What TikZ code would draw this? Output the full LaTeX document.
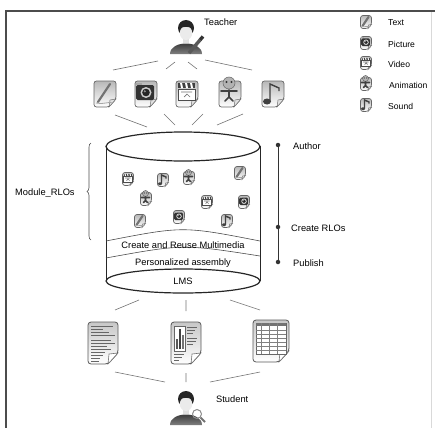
\documentclass[tikz,border=0pt]{standalone}
\usepackage{fontspec}
\setmainfont{Liberation Sans}
\usetikzlibrary{decorations.pathreplacing}

% plain page with a folded lower-right corner (24 x 28)
\newcommand\icnpage{%
  \draw[black!60, line width=0.7pt, rounded corners=2.5pt, top color=black!28, bottom color=white]
    (-11pt,-13pt) -- (11pt,-13pt) -- (11pt,5pt) -- (4pt,13pt) -- (-11pt,13pt) -- cycle;
  \fill[black!12, draw=black!55, line width=0.5pt] (11pt,5pt) -- (5pt,6pt) -- (4pt,13pt) -- cycle;
}
% larger document page, half width given as argument
\newcommand\docpage[1]{%
  \draw[black!65, line width=0.8pt, rounded corners=3pt, top color=black!22, bottom color=white]
    (-#1,-21pt) -- (#1,-21pt) -- (#1,10pt) -- ([xshift=-10pt]#1,21pt) -- (-#1,21pt) -- cycle;
  \fill[white, draw=black!55, line width=0.6pt] (#1,10pt) -- ([xshift=-9pt]#1,11pt) -- ([xshift=-10pt]#1,21pt) -- cycle;
}

\tikzset{
  lbl/.style={font=\fontsize{9.3}{11}\selectfont, inner sep=0pt, anchor=west},
  ctr/.style={font=\fontsize{9.3}{11}\selectfont, inner sep=0pt},
  key/.style={lbl, font=\fontsize{8.6}{10}\selectfont},
  link/.style={draw=black!55, line width=0.6pt},
  cyl/.style={draw=black!85, line width=0.9pt},
  band/.style={draw=black!70, line width=0.6pt},
  spot/.style={circle, fill=black!80, inner sep=0pt, minimum size=4.5pt},
  slot/.style={inner sep=0pt, minimum width=24pt, minimum height=28pt},
  mini/.style={inner sep=0pt, minimum width=12pt, minimum height=14pt},
  docslot/.style={inner sep=0pt, minimum width=32pt, minimum height=42pt},
  icn/.style={yscale=-1},
  % media icons (drawn with y pointing down)
  itext/.pic={\icnpage
    \draw[black!55, line width=2.2pt, line cap=round] (-7pt,8pt) -- (5pt,-10pt);
    \draw[black!35, line width=0.8pt] (-9pt,9pt) .. controls (-2pt,11pt) and (4pt,7pt) .. (8pt,9pt);},
  ipict/.pic={\icnpage
    \fill[black!80, rounded corners=1.5pt] (-10pt,-9pt) rectangle (8pt,6pt);
    \fill[black!35] (-10pt,-11pt) rectangle (-4pt,-9pt);
    \fill[black!20] (0pt,-1.5pt) circle (5.5pt);
    \fill[black!85] (0pt,-1.5pt) circle (3.8pt);
    \fill[black!45] (-1.2pt,-2.7pt) circle (1.2pt);},
  ivid/.pic={\icnpage
    \fill[black!75] (-9pt,-11pt) rectangle (8pt,-6pt);
    \foreach \q in {-7,-2,3}{\fill[white] (\q pt,-11pt) -- (\q pt+2pt,-11pt) -- (\q pt+3pt,-6pt) -- (\q pt+1pt,-6pt) -- cycle;}
    \draw[black!70, fill=white, line width=0.6pt] (-9pt,-5pt) rectangle (8pt,6pt);
    \draw[black!55, line width=0.7pt] (-6pt,-2pt) -- (5pt,-2pt) (-3pt,3pt) -- (0pt,0pt) -- (3pt,3pt);},
  ianim/.pic={\icnpage
    \fill[black!30, draw=black!60, line width=0.5pt] (-1pt,-11pt) circle (6pt);
    \fill[black!80] (-3.5pt,-12pt) circle (1.2pt) (1.5pt,-12pt) circle (1.2pt);
    \draw[black!75, line width=1.6pt, line cap=round] (-9pt,-3pt) -- (7pt,-3pt) (-1pt,-4pt) -- (-1pt,3pt) (-5pt,7pt) -- (-1pt,3pt) -- (3pt,7pt);},
  isnd/.pic={\icnpage
    \draw[black!75, line width=1.4pt] (-3pt,7pt) -- (-3pt,-10pt) -- (6pt,-6pt) -- (6pt,-3pt);
    \fill[black!75] (-6pt,7.5pt) ellipse [x radius=4pt, y radius=3pt];},
  % documents handed to the student
  dtext/.pic={\docpage{15pt}
    \foreach \yy/\w in {-17/22,-14/12,-11/18,-8/24,-3/20,0/24,3/16,6/20,9/14,12/12,15/9,18/8}
      {\draw[black!60, line width=0.6pt] (-12pt,\yy pt) -- ++(\w pt,0pt);}},
  dchart/.pic={\docpage{15pt}
    \draw[black!60, fill=white, line width=0.5pt] (-12pt,-17pt) rectangle (-1pt,8pt);
    \fill[black!65] (-10pt,6pt) rectangle (-8pt,-4pt);
    \fill[black!75] (-7pt,6pt) rectangle (-5pt,-14pt);
    \fill[black!55] (-4pt,6pt) rectangle (-2pt,-8pt);
    \foreach \xx/\yy/\w in {1/-16/10,1/-13/8,1/-10/6,1/-5/10,1/-2/9,1/1/6,-12/11/10,-12/14/8,-12/17/5}
      {\draw[black!60, line width=0.6pt] (\xx pt,\yy pt) -- ++(\w pt,0pt);}},
  dgrid/.pic={\docpage{18pt}
    \draw[black!60, fill=white, line width=0.5pt] (-15pt,-18pt) rectangle (15pt,13pt);
    \fill[black!55] (-15pt,-18pt) rectangle (15pt,-15pt);
    \foreach \yy in {-11,-7,-3,1,5,9}{\draw[black!50, line width=0.5pt] (-15pt,\yy pt) -- (15pt,\yy pt);}
    \foreach \xx in {-10,-2,6}{\draw[black!50, line width=0.5pt] (\xx pt,-18pt) -- (\xx pt,13pt);}},
  % people
  person/.pic={
    \shade[top color=black!85, bottom color=black!50] (-16pt,17pt) .. controls (-16pt,3pt) and (16pt,3pt) .. (16pt,17pt) -- cycle;
    \fill[black!12] (-3pt,0pt) rectangle (3pt,6pt);
    \fill[black!85] (0pt,-9pt) circle (8pt);
    \fill[black!8] (0pt,-4pt) ellipse [x radius=6.2pt, y radius=7pt];
    \fill[black!85] (-7.5pt,-8pt) .. controls (-6pt,-18pt) and (6pt,-18pt) .. (7.5pt,-8pt) .. controls (3pt,-11pt) and (-3pt,-11pt) .. cycle;},
}

\begin{document}
\begin{tikzpicture}[x=1pt, y=-1pt]
\useasboundingbox (0,0) rectangle (435,428);

% frame
\draw[black!15, line width=0.6pt] (431,12) -- (431,428);
\draw[black!70, line width=1.4pt] (435,11) -- (6,11) -- (6,428);

% teacher
\node[inner sep=0pt, minimum width=34pt, minimum height=36pt] (teacher) at (186,37) {};
\pic[icn] at (teacher) {person};
\draw[black!65, line width=3.4pt] (189,53) -- (200,40);
\draw[black!80, line width=3.4pt] (200,40) -- (203,36.5);
\node[lbl] (teachertxt) at (204,22) {Teacher};

% media row
\node[slot] (m1) at (105,94) {}; \pic[icn] at (m1) {itext};
\node[slot] (m2) at (146,94) {}; \pic[icn] at (m2) {ipict};
\node[slot] (m3) at (187,94) {}; \pic[icn] at (m3) {ivid};
\node[slot] (m4) at (230,94) {}; \pic[icn] at (m4) {ianim};
\node[slot] (m5) at (273,94) {}; \pic[icn] at (m5) {isnd};

% strokes teacher -> media
\coordinate (ta1) at (113,70); \coordinate (tb1) at (158,61);
\coordinate (ta2) at (166,69); \coordinate (tb2) at (175,62);
\coordinate (ta3) at (188,62); \coordinate (tb3) at (197,69);
\coordinate (ta4) at (205,60); \coordinate (tb4) at (252,70);
\draw[link] (ta1) -- (tb1) (ta2) -- (tb2) (ta3) -- (tb3) (ta4) -- (tb4);

% strokes media -> store
\coordinate (ma1) at (115,115); \coordinate (mb1) at (147,127);
\coordinate (ma2) at (164,114); \coordinate (mb2) at (175,125);
\coordinate (ma3) at (192,125); \coordinate (mb3) at (203,114);
\coordinate (ma4) at (217,125); \coordinate (mb4) at (243,114);
\draw[link] (ma1) -- (mb1) (ma2) -- (mb2) (ma3) -- (mb3) (ma4) -- (mb4);

% legend
\node[mini] (k1) at (366,22) {};  \pic[icn, scale=0.5] at (k1) {itext};
\node[mini] (k2) at (366,43) {};  \pic[icn, scale=0.5] at (k2) {ipict};
\node[mini] (k3) at (366,63) {};  \pic[icn, scale=0.5] at (k3) {ivid};
\node[mini] (k4) at (366,84) {};  \pic[icn, scale=0.5] at (k4) {ianim};
\node[mini] (k5) at (366,105) {}; \pic[icn, scale=0.5] at (k5) {isnd};
\node[key] (k1t) at (388,23) {Text};
\node[key] (k2t) at (388,44) {Picture};
\node[key] (k3t) at (388,64) {Video};
\node[key] (k4t) at (389,85) {Animation};
\node[key] (k5t) at (388,106) {Sound};

% the RLO store (cylinder)
\draw[cyl] (106,146) -- (106,281);
\draw[cyl] (260,146) -- (260,281);
\draw[cyl, line width=1.2pt, fill=white] (183,146.5) ellipse [x radius=77pt, y radius=14.5pt];
\draw[band] (106,241) .. controls (183,226) .. (260,241);
\draw[band] (106,258) .. controls (183,244) .. (260,256);
\draw[cyl, line width=1.2pt] (183,281) ellipse [x radius=77pt, y radius=12pt];
\node[ctr] (crm) at (183,245) {Create and Reuse Multimedia};
\node[ctr] (pas) at (183,263) {Personalized assembly};
\node[ctr] (lms) at (183,281) {LMS};

% RLOs inside the store
\node[mini] (r1) at (128,179) {};  \pic[icn, scale=0.5] at (r1) {ivid};
\node[mini] (r2) at (163,180) {};  \pic[icn, scale=0.5] at (r2) {isnd};
\node[mini] (r3) at (189,178) {};  \pic[icn, scale=0.5] at (r3) {ianim};
\node[mini] (r4) at (240,173) {};  \pic[icn, scale=0.5] at (r4) {itext};
\node[mini] (r5) at (146,199) {};  \pic[icn, scale=0.5] at (r5) {ianim};
\node[mini] (r6) at (207,202) {};  \pic[icn, scale=0.5] at (r6) {ivid};
\node[mini] (r7) at (244,202) {};  \pic[icn, scale=0.5] at (r7) {ipict};
\node[mini] (r8) at (140,221) {};  \pic[icn, scale=0.5] at (r8) {itext};
\node[mini] (r9) at (179,217) {};  \pic[icn, scale=0.5] at (r9) {ipict};
\node[mini] (r10) at (227,221) {}; \pic[icn, scale=0.5] at (r10) {isnd};

% module brace
\draw[black!70, line width=0.6pt, decorate, decoration={brace, amplitude=4pt}] (91,240) -- (91,143);
\node[lbl] (mod) at (15,193) {Module\_RLOs};

% stages
\node[spot] (au) at (278,145) {};
\node[spot] (cr) at (278,227) {};
\node[spot] (pu) at (278,262) {};
\draw[black!80, line width=0.9pt] (au) -- (cr) -- (pu);
\node[lbl] (aut) at (293,146) {Author};
\node[lbl] (crt) at (291,228) {Create RLOs};
\node[lbl] (put) at (293,263) {Publish};

% strokes store -> documents
\coordinate (sa1) at (115,310); \coordinate (sb1) at (139,300);
\coordinate (sa2) at (186,300); \coordinate (sb2) at (186,311);
\coordinate (sa3) at (230,300); \coordinate (sb3) at (260,310);
\draw[link] (sa1) -- (sb1) (sa2) -- (sb2) (sa3) -- (sb3);

% documents
\node[docslot] (d1) at (103,343) {}; \pic[icn] at (d1) {dtext};
\node[docslot] (d2) at (186,343) {}; \pic[icn] at (d2) {dchart};
\node[docslot, minimum width=38pt] (d3) at (271,341) {}; \pic[icn] at (d3) {dgrid};

% strokes documents -> student
\coordinate (da1) at (115,372); \coordinate (db1) at (165,382);
\coordinate (da2) at (186,373); \coordinate (db2) at (186,382);
\coordinate (da3) at (210,382); \coordinate (db3) at (260,372);
\draw[link] (da1) -- (db1) (da2) -- (db2) (da3) -- (db3);

% student
\node[inner sep=0pt, minimum width=34pt, minimum height=36pt] (student) at (186,408) {};
\pic[icn] at (student) {person};
\draw[black!45, line width=1pt] (197,414) circle (4.5pt);
\draw[black!55, line width=2pt] (200.5,417.5) -- (205,422);
\node[lbl] (studenttxt) at (216,399) {Student};
\end{tikzpicture}
\end{document}
